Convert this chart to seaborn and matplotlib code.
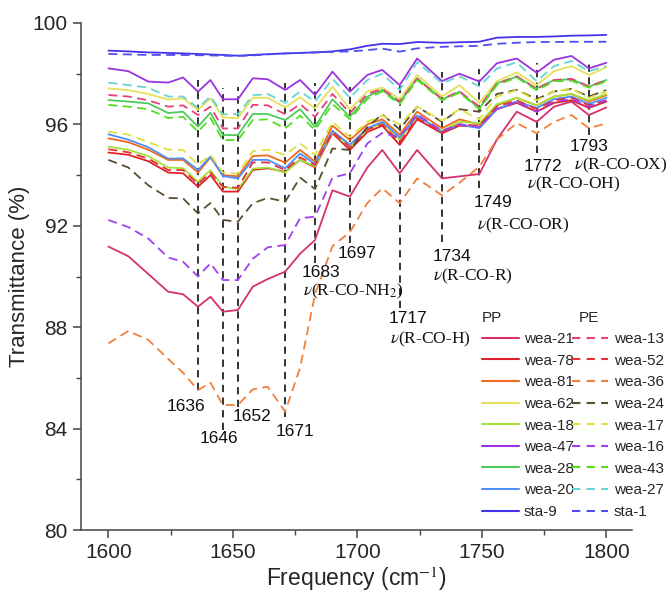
import numpy as np
import pandas as pd
import matplotlib
matplotlib.use("Agg")
import matplotlib.pyplot as plt
from matplotlib.lines import Line2D
from matplotlib.ticker import MultipleLocator
import seaborn as sns

# wavenumber grid (cm-1) the spectra were read at
freq = [1600, 1608, 1616, 1624, 1630, 1636, 1641, 1646, 1652, 1658, 1664, 1671, 1677, 1683, 1690,
        1697, 1704, 1710, 1717, 1724, 1734, 1741, 1749, 1756, 1764, 1772, 1779, 1786, 1793, 1800]

# PP samples (solid)
wea_21 = [91.18, 90.8, 90.1, 89.4, 89.3, 88.81, 89.2, 88.61, 88.68, 89.6, 89.9, 90.19, 90.9, 91.44, 93.4,
          93.15, 94.3, 94.99, 94.07, 94.99, 93.87, 93.95, 94.04, 95.4, 96.5, 96.1, 96.7, 96.9, 96.37, 96.67]
wea_78 = [94.89, 94.8, 94.55, 94.1, 94.07, 93.54, 94.0, 93.35, 93.35, 94.2, 94.27, 94.13, 94.6, 94.31, 95.65,
          94.99, 95.7, 95.95, 95.19, 96.2, 95.65, 95.95, 95.9, 96.6, 96.85, 96.5, 96.85, 96.95, 96.65, 96.9]
wea_81 = [95.45, 95.3, 95.0, 94.6, 94.6, 94.1, 94.7, 94.0, 93.95, 94.75, 94.78, 94.49, 94.99, 94.53, 95.95,
          95.38, 96.0, 96.2, 95.6, 96.5, 95.85, 96.2, 96.0, 96.75, 97.05, 96.75, 97.1, 97.2, 96.9, 97.15]
wea_62 = [97.42, 97.35, 97.2, 96.98, 97.03, 96.57, 97.03, 96.28, 96.24, 97.05, 97.05, 96.67, 97.07, 96.63, 97.49,
          96.6, 97.3, 97.45, 97.0, 97.95, 97.1, 97.55, 96.85, 97.7, 98.05, 97.55, 98.1, 98.3, 97.95, 98.25]
wea_18 = [95.12, 95.0, 94.75, 94.3, 94.27, 93.74, 94.2, 93.54, 93.45, 94.25, 94.3, 94.1, 94.6, 94.35, 95.7,
          95.1, 95.8, 96.05, 95.4, 96.3, 95.75, 96.1, 96.05, 96.8, 97.05, 96.75, 97.1, 97.2, 96.95, 97.2]
wea_47 = [98.21, 98.1, 97.69, 97.65, 97.85, 97.29, 97.75, 96.99, 96.99, 97.82, 97.78, 97.36, 97.75, 97.16, 98.08,
          97.29, 97.95, 98.15, 97.55, 98.6, 97.71, 98.0, 97.69, 98.41, 98.6, 98.04, 98.55, 98.7, 98.21, 98.43]
wea_28 = [96.96, 96.9, 96.83, 96.45, 96.5, 95.91, 96.46, 95.58, 95.58, 96.41, 96.41, 96.17, 96.6, 95.91, 96.99,
          96.3, 97.1, 97.36, 96.86, 97.82, 96.99, 97.29, 96.63, 97.62, 97.88, 97.42, 97.75, 97.78, 97.49, 97.75]
wea_20 = [95.61, 95.4, 95.1, 94.65, 94.66, 94.2, 94.73, 93.96, 93.87, 94.6, 94.6, 94.27, 94.85, 94.44, 95.75,
          95.2, 95.85, 96.1, 95.5, 96.35, 95.7, 96.0, 95.85, 96.6, 96.9, 96.65, 97.0, 97.1, 96.8, 97.05]
sta_9 = [98.91, 98.88, 98.84, 98.82, 98.8, 98.78, 98.76, 98.74, 98.71, 98.74, 98.77, 98.8, 98.82, 98.84, 98.88,
         98.96, 99.1, 99.18, 99.17, 99.25, 99.22, 99.24, 99.26, 99.42, 99.45, 99.45, 99.47, 99.5, 99.51, 99.53]

# PE samples (dashed)
wea_13 = [97.16, 97.1, 96.95, 96.7, 96.75, 96.37, 96.7, 95.84, 95.84, 96.77, 96.75, 96.4, 96.8, 96.3, 97.2,
          96.45, 97.2, 97.4, 96.9, 97.8, 97.0, 97.3, 96.7, 97.6, 97.9, 97.4, 97.75, 97.8, 97.5, 97.75]
wea_52 = [95.02, 94.9, 94.65, 94.2, 94.2, 93.65, 94.1, 93.54, 93.5, 94.5, 94.5, 94.2, 94.7, 94.4, 95.7,
          95.1, 95.8, 96.0, 95.3, 96.25, 95.7, 96.0, 95.95, 96.7, 96.95, 96.6, 96.95, 97.05, 96.75, 96.95]
wea_36 = [87.36, 87.85, 87.5, 86.75, 86.2, 85.52, 85.81, 84.93, 84.93, 85.55, 85.65, 84.67, 86.4, 89.3, 91.2,
          91.75, 92.9, 93.48, 92.89, 93.87, 93.2, 93.7, 94.33, 95.4, 96.05, 95.65, 96.1, 96.37, 95.85, 96.04]
wea_24 = [94.6, 94.3, 93.6, 93.1, 93.08, 92.49, 92.9, 92.23, 92.16, 92.89, 93.1, 92.95, 93.9, 93.45, 95.05,
          94.99, 95.9, 96.4, 95.8, 96.7, 96.1, 96.6, 96.5, 97.2, 97.36, 97.0, 97.3, 97.4, 97.1, 97.35]
wea_17 = [95.71, 95.6, 95.3, 95.0, 94.99, 94.4, 94.8, 94.1, 94.05, 94.95, 95.0, 94.8, 95.25, 94.8, 96.1,
          95.5, 96.1, 96.35, 96.0, 96.7, 96.15, 96.6, 96.2, 97.1, 97.35, 96.95, 97.3, 97.4, 97.05, 97.3]
wea_16 = [92.23, 91.95, 91.5, 90.75, 90.58, 90.0, 90.52, 89.86, 89.86, 90.7, 91.15, 91.24, 92.3, 92.36, 93.9,
          94.07, 95.25, 95.66, 95.5, 96.4, 95.75, 96.0, 95.9, 96.6, 96.9, 96.5, 96.9, 97.0, 96.7, 96.95]
wea_43 = [96.77, 96.7, 96.6, 96.25, 96.3, 95.71, 96.25, 95.38, 95.38, 96.17, 96.2, 95.84, 96.35, 95.78, 96.8,
          96.2, 97.0, 97.3, 96.8, 97.75, 96.95, 97.25, 96.6, 97.55, 97.85, 97.35, 97.7, 97.72, 97.45, 97.7]
wea_27 = [97.65, 97.55, 97.45, 97.1, 97.1, 96.65, 97.1, 96.4, 96.4, 97.15, 97.2, 96.85, 97.3, 96.9, 97.8,
          97.05, 97.75, 98.0, 97.36, 98.45, 97.62, 97.9, 97.5, 98.2, 98.45, 97.7, 98.3, 98.5, 98.1, 98.3]
sta_1 = [98.78, 98.76, 98.74, 98.74, 98.74, 98.73, 98.72, 98.71, 98.7, 98.72, 98.76, 98.8, 98.82, 98.84, 98.86,
         98.88, 98.93, 98.99, 98.87, 99.0, 99.06, 99.08, 99.1, 99.18, 99.22, 99.25, 99.25, 99.26, 99.26, 99.26]

pp_names = ["wea-21", "wea-78", "wea-81", "wea-62", "wea-18", "wea-47", "wea-28", "wea-20", "sta-9"]
pe_names = ["wea-13", "wea-52", "wea-36", "wea-24", "wea-17", "wea-16", "wea-43", "wea-27", "sta-1"]
pp_data = [wea_21, wea_78, wea_81, wea_62, wea_18, wea_47, wea_28, wea_20, sta_9]
pe_data = [wea_13, wea_52, wea_36, wea_24, wea_17, wea_16, wea_43, wea_27, sta_1]
pp_colors = ["#D6306F", "#E0202A", "#EE6A1C", "#E6E05A", "#A6E33A", "#9933DD", "#4CCB5A", "#4F8FF7", "#4433EE"]
pe_colors = ["#E5407A", "#E5303A", "#F0803A", "#5A5030", "#E0E040", "#A040F0", "#55DD22", "#66D4D4", "#4E4EF0"]

# marked bands: position, line top/bottom, label text and where it sits
peaks = [1636, 1646, 1652, 1671, 1683, 1697, 1717, 1734, 1749, 1772, 1793]
peak_top = [97.75, 97.44, 97.48, 97.63, 97.63, 97.48, 97.63, 98.08, 98.17, 98.43, 98.54]
peak_bottom = [85.52, 83.94, 84.86, 84.47, 90.52, 91.31, 88.75, 91.37, 93.48, 94.86, 95.58]
num_xy = [(1631.2, 84.89), (1644.5, 83.59), (1657.8, 84.46), (1675.1, 83.87), (1685.5, 90.14), (1699.9, 90.89),
          (1720.4, 88.36), (1738.1, 90.77), (1754.3, 92.9), (1774.4, 94.32), (1792.9, 95.11)]
groups = ["$\\nu$(R-CO-NH$_2$)", "$\\nu$(R-CO-H)", "$\\nu$(R-CO-R)", "$\\nu$(R-CO-OR)", "$\\nu$(R-CO-OH)",
          "$\\nu$(R-CO-OX)"]
group_xy = [(1678.3, 89.43), (1713.2, 87.53), (1730.4, 90.02), (1747.9, 92.03), (1768, 93.65), (1786.9, 94.4)]

sns.set_style("ticks")
plt.rcParams["font.family"] = ["Liberation Sans", "DejaVu Sans"]
plt.rcParams["mathtext.fontset"] = "stix"

fig = plt.figure(figsize=(6.7, 5.92), dpi=100)
ax = fig.add_axes([81 / 670, 62 / 592, 551 / 670, 507 / 592])

for i in range(len(peaks)):
    ax.plot([peaks[i], peaks[i]], [peak_bottom[i], peak_top[i]], color="#222222", lw=1.3,
            dashes=(4, 3), zorder=1)

handles_pp, handles_pe = [], []
for name, vals, col in zip(pp_names, pp_data, pp_colors):
    sns.lineplot(x=freq, y=vals, ax=ax, color=col, lw=1.3, zorder=2)
    handles_pp.append(Line2D([], [], color=col, lw=1.5))
for name, vals, col in zip(pe_names, pe_data, pe_colors):
    sns.lineplot(x=freq, y=vals, ax=ax, color=col, lw=1.3, dashes=(5, 3), zorder=2)
    handles_pe.append(Line2D([], [], color=col, lw=1.5, dashes=(4, 3)))

for i, (x, y) in enumerate(num_xy):
    ax.text(x, y, str(peaks[i]), fontsize=12.5, ha="center", va="center", color="#111111")
for t, (x, y) in zip(groups, group_xy):
    ax.text(x, y, t, fontsize=12.5, ha="left", va="center", family="Liberation Serif", color="#111111",
            clip_on=False)

ax.set_xlim(1589, 1810.3)
ax.set_ylim(80, 100)
ax.xaxis.set_major_locator(MultipleLocator(50))
ax.xaxis.set_minor_locator(MultipleLocator(25))
ax.yaxis.set_major_locator(MultipleLocator(4))
ax.yaxis.set_minor_locator(MultipleLocator(2))
ax.tick_params(axis="both", which="major", labelsize=15, length=6, width=1.1, color="#444444")
ax.tick_params(axis="both", which="minor", length=3.5, width=1.0, color="#444444")
for s in ["left", "bottom"]:
    ax.spines[s].set_color("#444444")
    ax.spines[s].set_linewidth(1.1)
sns.despine(ax=ax)
ax.set_xlabel("Frequency (cm$^{-1}$)", fontsize=16.5, labelpad=2)
ax.set_ylabel("Transmittance (%)", fontsize=16, labelpad=2)

leg = ax.legend(handles_pp + handles_pe, pp_names + pe_names, ncol=2, fontsize=11, frameon=False,
                loc="upper left", bbox_to_anchor=(482 / 670, 1 - 332 / 592), bbox_transform=fig.transFigure,
                borderaxespad=0, borderpad=0, handlelength=2.4, handletextpad=0.35, columnspacing=-0.15,
                labelspacing=0.5)
fig.text(482 / 670, 1 - 318 / 592, "PP", fontsize=11, va="center", ha="left")
fig.text(579 / 670, 1 - 318 / 592, "PE", fontsize=11, va="center", ha="left")

fig.savefig("out.png", dpi=100)
